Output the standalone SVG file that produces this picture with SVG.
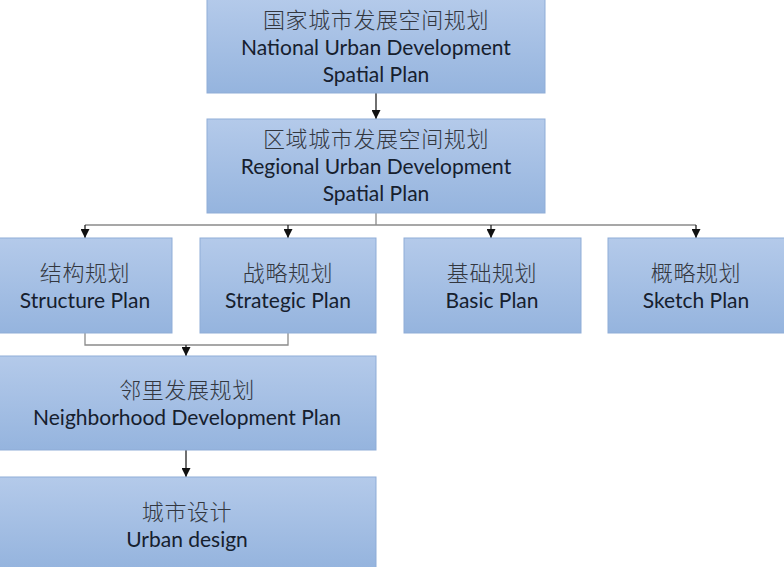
<svg xmlns="http://www.w3.org/2000/svg" width="784" height="567" viewBox="0 0 784 567">
<defs>
<linearGradient id="g" x1="0" y1="0" x2="0" y2="1">
<stop offset="0" stop-color="#b4caea"/>
<stop offset="1" stop-color="#95b4de"/>
</linearGradient>
<marker id="arr" viewBox="0 0 10 10" refX="10" refY="5" markerWidth="9" markerHeight="9" markerUnits="userSpaceOnUse" orient="auto">
<path d="M0,0 L10,5 L0,10 z" fill="#111"/>
</marker>
<style>
.box{fill:url(#g);stroke:#8fadd7;stroke-width:1}
.zh{font-family:"Noto Sans CJK SC","Noto Sans",sans-serif;font-size:22px;font-weight:300;letter-spacing:0.6px;fill:#33373f;text-anchor:middle}
.en{font-family:Lato,"Open Sans",sans-serif;font-size:21px;fill:#16202e;text-anchor:middle}
.ln{fill:none;stroke:#8a8a8a;stroke-width:1.3}
.ar{fill:none;stroke:#222;stroke-width:1.3;marker-end:url(#arr)}
</style>
</defs>
<rect width="784" height="567" fill="#ffffff"/>
<g id="connectors">
<line class="ar" x1="376" y1="93" x2="376" y2="119"/>
<line class="ln" x1="376" y1="213" x2="376" y2="225"/>
<line class="ln" x1="85" y1="225" x2="696" y2="225"/>
<line class="ar" x1="85" y1="225" x2="85" y2="238"/>
<line class="ar" x1="288" y1="225" x2="288" y2="238"/>
<line class="ar" x1="491" y1="225" x2="491" y2="238"/>
<line class="ar" x1="696" y1="225" x2="696" y2="238"/>
<polyline class="ln" points="85,333 85,345 288,345 288,333"/>
<line class="ar" x1="186" y1="345" x2="186" y2="356"/>
<line class="ar" x1="186" y1="450" x2="186" y2="477"/>
</g>
<g id="national">
<rect class="box" x="207" y="-1" width="338" height="94"/>
<text class="zh" x="376" y="28">国家城市发展空间规划</text>
<text class="en" x="376" y="55">National Urban Development</text>
<text class="en" x="376" y="82">Spatial Plan</text>
</g>
<g id="regional">
<rect class="box" x="207" y="119" width="338" height="94"/>
<text class="zh" x="376" y="147">区域城市发展空间规划</text>
<text class="en" x="376" y="174">Regional Urban Development</text>
<text class="en" x="376" y="201">Spatial Plan</text>
</g>
<g id="structure">
<rect class="box" x="-1" y="238" width="173" height="95"/>
<text class="zh" x="85" y="281">结构规划</text>
<text class="en" x="85" y="308">Structure Plan</text>
</g>
<g id="strategic">
<rect class="box" x="200" y="238" width="176" height="95"/>
<text class="zh" x="288" y="281">战略规划</text>
<text class="en" x="288" y="308">Strategic Plan</text>
</g>
<g id="basic">
<rect class="box" x="404" y="238" width="177" height="95"/>
<text class="zh" x="492" y="281">基础规划</text>
<text class="en" x="492" y="308">Basic Plan</text>
</g>
<g id="sketch">
<rect class="box" x="608" y="238" width="177" height="95"/>
<text class="zh" x="696" y="281">概略规划</text>
<text class="en" x="696" y="308">Sketch Plan</text>
</g>
<g id="neighborhood">
<rect class="box" x="-1" y="356" width="377" height="94"/>
<text class="zh" x="187" y="398">邻里发展规划</text>
<text class="en" x="187" y="425">Neighborhood Development Plan</text>
</g>
<g id="urban-design">
<rect class="box" x="-1" y="477" width="377" height="91"/>
<text class="zh" x="187" y="520">城市设计</text>
<text class="en" x="187" y="547">Urban design</text>
</g>
</svg>
